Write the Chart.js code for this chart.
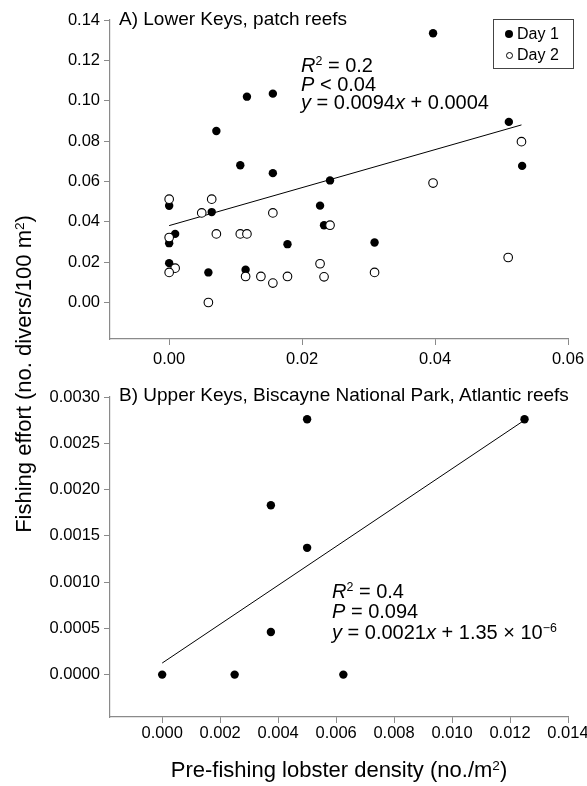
<!DOCTYPE html>
<html>
<head>
<meta charset="utf-8">
<script src="https://cdn.jsdelivr.net/npm/chart.js@4.4.1/dist/chart.umd.min.js"></script>
<style>
  html, body { margin: 0; padding: 0; background: #fff; }
  body { width: 587px; height: 786px; position: relative; overflow: hidden; font-family: "Liberation Sans", Arial, sans-serif; color: #000; }
  canvas { position: absolute; left: 0; }
  #cTop { top: 0; }
  #cBot { top: 370px; }
  .txt { position: absolute; white-space: nowrap; }
  .up { font-size: 0.62em; position: relative; top: -0.55em; line-height: 0; }
  .legend { position: absolute; left: 493px; top: 19px; width: 79px; height: 48px; border: 1px solid #444; font-size: 16px; }
  .legend div { position: absolute; left: 23px; line-height: 20px; }
  .dot { position: absolute; border-radius: 50%; box-sizing: border-box; }
</style>
</head>
<body>
<canvas id="cTop" width="587" height="370"></canvas>
<canvas id="cBot" width="587" height="416"></canvas>

<div class="txt" style="left:119px; top:8px; font-size:19px; line-height:22px;">A) Lower Keys, patch reefs</div>
<div class="txt" style="left:119px; top:384px; font-size:19px; line-height:22px;">B) Upper Keys, Biscayne National Park, Atlantic reefs</div>

<div class="txt" style="left:301px; top:56px; font-size:20px; line-height:18.5px;">
  <i>R</i><span class="up">2</span> = 0.2<br>
  <i>P</i> &lt; 0.04<br>
  <i>y</i> = 0.0094<i>x</i> + 0.0004
</div>
<div class="txt" style="left:332px; top:581px; font-size:20px; line-height:20.3px;">
  <i>R</i><span class="up">2</span> = 0.4<br>
  <i>P</i> = 0.094<br>
  <i>y</i> = 0.0021<i>x</i> + 1.35 × 10<span class="up">−6</span>
</div>

<div class="legend">
  <span class="dot" style="left:11px; top:10px; width:8px; height:8px; background:#000;"></span>
  <div style="top:4px;">Day 1</div>
  <span class="dot" style="left:12px; top:32px; width:7px; height:7px; border:1px solid #000;"></span>
  <div style="top:25px;">Day 2</div>
</div>

<div class="txt" style="left:-176px; top:361px; width:400px; height:26px; line-height:26px; text-align:center; font-size:22px; transform:rotate(-90deg);">Fishing effort (no. divers/100 m<span class="up">2</span>)</div>
<div class="txt" style="left:139px; top:757px; width:400px; line-height:26px; text-align:center; font-size:22px;">Pre-fishing lobster density (no./m<span class="up">2</span>)</div>

<script>
// A) Lower Keys, patch reefs
const topDay1X = [0.0117, 0.0156, 0.0071, 0.0107, 0.0156, 0.0397, 0.0511, 0.0531, 0.0242, 0.0000,
                  0.0064, 0.0178, 0.0009, 0.0000, 0.0000, 0.0059, 0.0115, 0.0227, 0.0233, 0.0309];
const topDay1Y = [0.1020, 0.1035, 0.0850, 0.0680, 0.0641, 0.1334, 0.0895, 0.0677, 0.0605, 0.0479,
                  0.0448, 0.0289, 0.0340, 0.0294, 0.0195, 0.0149, 0.0162, 0.0480, 0.0383, 0.0297];
const topDay2X = [0.0530, 0.0397, 0.0000, 0.0064, 0.0049, 0.0071, 0.0107, 0.0117, 0.0156, 0.0000, 0.0009,
                  0.0000, 0.0059, 0.0115, 0.0138, 0.0156, 0.0178, 0.0227, 0.0233, 0.0242, 0.0309, 0.0510];
const topDay2Y = [0.0797, 0.0592, 0.0512, 0.0512, 0.0444, 0.0340, 0.0340, 0.0340, 0.0444, 0.0322, 0.0170,
                  0.0149, 0.0000, 0.0129, 0.0129, 0.0096, 0.0129, 0.0192, 0.0127, 0.0383, 0.0149, 0.0223];
const topFitX = [0.0000, 0.0530];
const topFitY = [0.0381, 0.0880];
const topXTicks = [0.00, 0.02, 0.04, 0.06];
const topYTicks = [0.00, 0.02, 0.04, 0.06, 0.08, 0.10, 0.12, 0.14];

// B) Upper Keys, Biscayne National Park
const botX = [0.0000, 0.0025, 0.00375, 0.00375, 0.0050, 0.0050, 0.00625, 0.0125];
const botY = [0.0000, 0.0000, 0.00046, 0.00183, 0.00137, 0.00276, 0.0000, 0.00276];
const botFitX = [0.0000, 0.0125];
const botFitY = [0.000125, 0.00275];
const botXTicks = [0.000, 0.002, 0.004, 0.006, 0.008, 0.010, 0.012, 0.014];
const botYTicks = [0.0000, 0.0005, 0.0010, 0.0015, 0.0020, 0.0025, 0.0030];

const pts = (xs, ys) => xs.map((x, i) => ({ x, y: ys[i] }));
const tickFont = { family: '"Liberation Sans", Arial, sans-serif', size: 16.5 };
const AXIS = '#8a8a8a';

function axis(ticks, digits, min, max, extra) {
  return Object.assign({
    type: 'linear', min, max,
    border: { display: true, color: AXIS, width: 1.2 },
    grid: { display: true, drawOnChartArea: false, drawTicks: true, tickLength: 6, color: AXIS, tickColor: AXIS },
    ticks: { color: '#000', font: tickFont, padding: 4, callback: v => Number(v).toFixed(digits) },
    afterBuildTicks: s => { s.ticks = ticks.map(v => ({ value: v })); }
  }, extra || {});
}

// x axes: fixed height, and let the end labels hang past the plot edges
const xFit = (h) => (s) => { s.height = h; s.paddingLeft = 0; s.paddingRight = 0; };

function scatter(el, datasets, x, y, padding) {
  return new Chart(document.getElementById(el), {
    type: 'scatter',
    data: { datasets },
    options: {
      responsive: false, animation: false, events: [],
      layout: { padding },
      plugins: { legend: { display: false }, tooltip: { enabled: false } },
      scales: { x, y }
    }
  });
}

const fitLine = (data) => ({ data, showLine: true, borderColor: '#000', borderWidth: 1, pointRadius: 0, fill: false });

scatter('cTop', [
  { data: pts(topDay2X, topDay2Y), pointRadius: 4.3, backgroundColor: '#fff', borderColor: '#000', borderWidth: 1.1 },
  { data: pts(topDay1X, topDay1Y), pointRadius: 4.2, backgroundColor: '#000', borderColor: '#000', borderWidth: 0 },
  fitLine(pts(topFitX, topFitY))
],
  axis(topXTicks, 2, -0.0089, 0.06, { afterFit: xFit(31), ticks: { color: '#000', font: tickFont, padding: 5, callback: v => Number(v).toFixed(2) } }),
  axis(topYTicks, 2, -0.0181, 0.14, { afterFit: s => { s.width = 110; } }),
  { top: 20, right: 19, left: 0, bottom: 0 });

scatter('cBot', [
  { data: pts(botX, botY), pointRadius: 4.2, backgroundColor: '#000', borderColor: '#000', borderWidth: 0 },
  fitLine(pts(botFitX, botFitY))
],
  axis(botXTicks, 3, -0.0018, 0.014, { afterFit: xFit(69), ticks: { color: '#000', font: tickFont, padding: 1, callback: v => Number(v).toFixed(3) } }),
  axis(botYTicks, 4, -0.000458, 0.0030, { afterFit: s => { s.width = 110; } }),
  { top: 27, right: 19, left: 0, bottom: 0 });
</script>
</body>
</html>
